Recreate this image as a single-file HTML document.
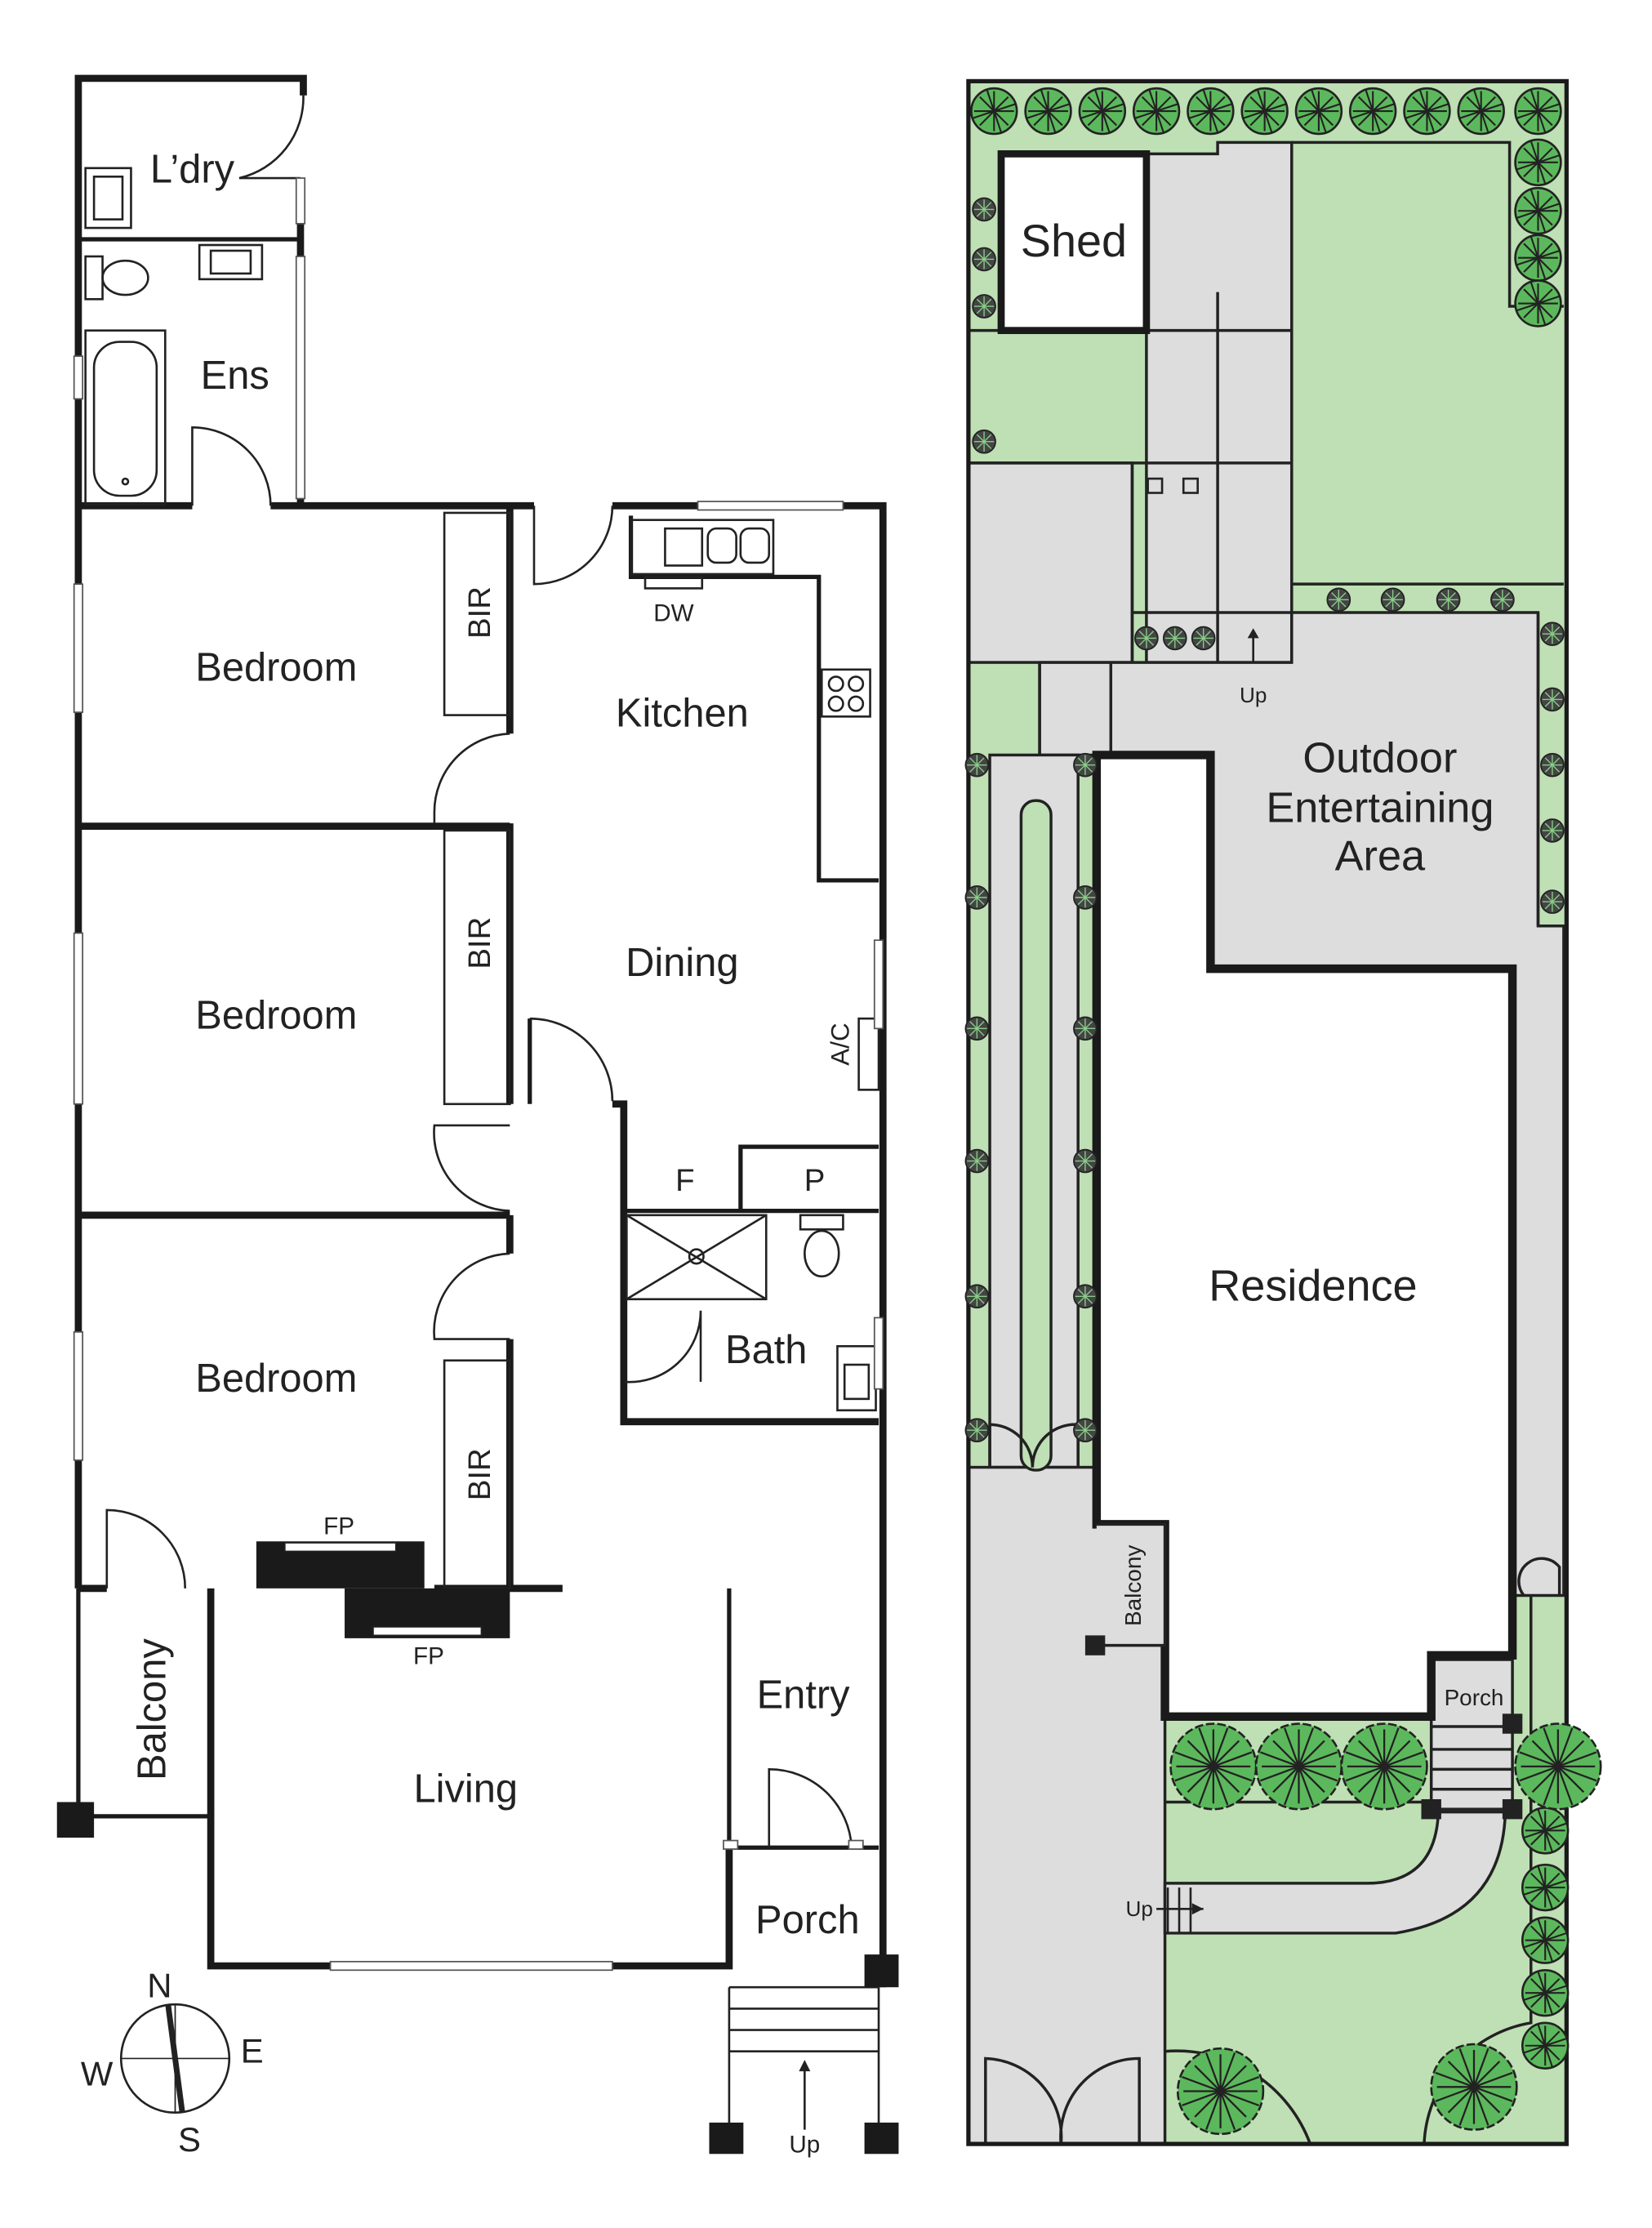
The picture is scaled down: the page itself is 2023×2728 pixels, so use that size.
<!DOCTYPE html>
<html><head><meta charset="utf-8"><style>html,body{margin:0;padding:0;background:#fff}svg{display:block}text{font-family:"Liberation Sans",sans-serif;fill:#222}</style></head>
<body>
<svg width="2023" height="2728" viewBox="0 0 1160 1564" preserveAspectRatio="none" xmlns="http://www.w3.org/2000/svg">
<defs>
<g id="t"><circle r="16" fill="#5cb85c" stroke="#222" stroke-width="1.5"/><path d="M-14,0H14M0,-14V14M-10,-10L10,10M-10,10L10,-10M-5,-15L5,15M15,-5L-15,5" stroke="#222" stroke-width="1.2"/></g>
<g id="s"><circle r="8" fill="#444" stroke="#222"/><path d="M-7,0H7M0,-7V7M-5,-5L5,5M-5,5L5,-5" stroke="#8c8" stroke-width="0.8"/></g>
<g id="b"><circle r="30" fill="#5cb85c" stroke="#222" stroke-width="1.5" stroke-dasharray="6 2"/><path d="M-26,0H26M0,-26V26M-18,-18L18,18M-18,18L18,-18M-10,-27L10,27M27,-10L-27,10M-27,-10L27,10M10,-27L-10,27" stroke="#222" stroke-width="1.3"/></g>
</defs>
<!-- RIGHT SITE -->
<rect x="680" y="57" width="420" height="1448" fill="#bfdfb4"/>
<g fill="#dddddd" stroke="#222" stroke-width="2">
<path d="M805,108H855V100H907V465H805Z"/>
<rect x="680" y="325" width="115" height="140"/>
<path d="M730,465H907V430H1080V650H1098V1120H1062V680H850V530H770V530H730Z"/>
<rect x="695" y="530" width="62" height="500"/>
<rect x="680" y="1030" width="138" height="475"/>
<rect x="1005" y="1165" width="57" height="105"/>
</g>
<rect x="717" y="562" width="21" height="470" rx="10" fill="#bfdfb4" stroke="#222" stroke-width="2"/>
<g stroke="#222" stroke-width="2" fill="none">
<path d="M855,205V465M680,232H907M680,325H907M795,430H907M795,325V465M907,410H1098M907,100H1060V215H1098M1080,430V650M730,465V530M780,465V530M680,1000V1030M818,1265H1005"/>
<path d="M1005,1212H1062M1005,1228H1062M1005,1242H1062M1005,1256H1062"/>
<path d="M692,1505V1445A55,55 0 0 1 745,1505M800,1505V1445A55,55 0 0 0 745,1505"/>
<path d="M695,1030V1000A30,30 0 0 1 725,1030M757,1030V1000A30,30 0 0 0 725,1030"/>
<path d="M1070,1120A15,15 0 0 1 1095,1100V1120"/>
<path d="M818,1440A100,100 0 0 1 920,1505M1000,1505A90,90 0 0 1 1075,1420V1120"/>
</g>
<path d="M1010,1272Q1008,1322 960,1322L818,1322L818,1357L980,1357Q1055,1345 1057,1272Z" fill="#dddddd" stroke="#222" stroke-width="2"/>
<path d="M820,1325V1357M828,1325V1357M836,1325V1357M812,1340H845" stroke="#222" stroke-width="1.5"/>
<path d="M845,1340l-8,-4v8z" fill="#222"/>
<rect x="703" y="108" width="102" height="124" fill="#fff" stroke="#1a1a1a" stroke-width="5"/>
<rect x="806" y="336" width="10" height="10" fill="none" stroke="#222" stroke-width="1.5"/>
<rect x="831" y="336" width="10" height="10" fill="none" stroke="#222" stroke-width="1.5"/>
<path d="M770,530H850V680H1062V1162H1005V1205H818V1070H770Z" fill="#fff" stroke="#1a1a1a" stroke-width="6"/>
<path d="M770,1070H818V1155H770" fill="#dddddd" stroke="#222" stroke-width="2"/>
<rect x="762" y="1148" width="14" height="14" fill="#222"/>
<rect x="998" y="1263" width="14" height="14" fill="#222"/><rect x="1055" y="1263" width="14" height="14" fill="#222"/><rect x="1055" y="1203" width="14" height="14" fill="#222"/>
<path d="M880,465V445" stroke="#222" stroke-width="1.5"/><path d="M880,441l-4,7h8z" fill="#222"/>
<rect x="680" y="57" width="420" height="1448" fill="none" stroke="#1a1a1a" stroke-width="3"/>
<g>
<use href="#t" x="698" y="78"/><use href="#t" x="736" y="78"/><use href="#t" x="774" y="78"/><use href="#t" x="812" y="78"/><use href="#t" x="850" y="78"/><use href="#t" x="888" y="78"/><use href="#t" x="926" y="78"/><use href="#t" x="964" y="78"/><use href="#t" x="1002" y="78"/><use href="#t" x="1040" y="78"/><use href="#t" x="1080" y="78"/>
<use href="#t" x="1080" y="114"/><use href="#t" x="1080" y="148"/><use href="#t" x="1080" y="181"/><use href="#t" x="1080" y="213"/>
<use href="#s" x="691" y="147"/><use href="#s" x="691" y="182"/><use href="#s" x="691" y="215"/><use href="#s" x="691" y="310"/>
<use href="#s" x="805" y="448"/><use href="#s" x="825" y="448"/><use href="#s" x="845" y="448"/>
<use href="#s" x="940" y="421"/><use href="#s" x="978" y="421"/><use href="#s" x="1017" y="421"/><use href="#s" x="1055" y="421"/>
<use href="#s" x="1090" y="445"/><use href="#s" x="1090" y="491"/><use href="#s" x="1090" y="537"/><use href="#s" x="1090" y="583"/><use href="#s" x="1090" y="633"/>
<use href="#s" x="686" y="537"/><use href="#s" x="686" y="630"/><use href="#s" x="686" y="722"/><use href="#s" x="686" y="815"/><use href="#s" x="686" y="910"/><use href="#s" x="686" y="1004"/>
<use href="#s" x="762" y="537"/><use href="#s" x="762" y="630"/><use href="#s" x="762" y="722"/><use href="#s" x="762" y="815"/><use href="#s" x="762" y="910"/><use href="#s" x="762" y="1004"/>
<use href="#t" x="1085" y="1285"/><use href="#t" x="1085" y="1325"/><use href="#t" x="1085" y="1362"/><use href="#t" x="1085" y="1399"/><use href="#t" x="1085" y="1436"/>
<use href="#b" x="852" y="1240"/><use href="#b" x="912" y="1240"/><use href="#b" x="972" y="1240"/><use href="#b" x="1094" y="1240"/>
<use href="#b" x="857" y="1468"/><use href="#b" x="1035" y="1465"/>
</g>
<text x="754" y="180" font-size="32" text-anchor="middle">Shed</text>
<text x="969" y="542" font-size="30" text-anchor="middle">Outdoor</text>
<text x="969" y="577" font-size="30" text-anchor="middle">Entertaining</text>
<text x="969" y="611" font-size="30" text-anchor="middle">Area</text>
<text x="922" y="913" font-size="31" text-anchor="middle">Residence</text>
<text x="880" y="493" font-size="15" text-anchor="middle">Up</text>
<text x="1035" y="1197" font-size="16" text-anchor="middle">Porch</text>
<text x="800" y="1345" font-size="15" text-anchor="middle">Up</text>
<text transform="translate(801,1113) rotate(-90)" font-size="16" text-anchor="middle">Balcony</text>

<!-- LEFT PLAN -->
<g fill="none" stroke="#1a1a1a" stroke-width="5">
<path d="M213,67V55H55V1115"/>
<path d="M211,125V355"/>
<path d="M55,355H135M190,355H375M430,355H620V1395"/>
<path d="M358,355V515M358,578V775M358,853V880M358,940V1115"/>
<path d="M305,1115H395"/>
<path d="M430,775H438V998H617"/>
<path d="M55,580H358M55,853H358"/>
<path d="M148,1115V1380H512V1295"/>
<path d="M55,1115H75"/>
</g>
<g fill="none" stroke="#1a1a1a" stroke-width="3">
<path d="M55,168H211"/>
<path d="M512,1115V1295M512,1297H617"/>
<path d="M443,362V405H575V618H617"/>
<path d="M520,850V805H617M438,850H617"/>
<path d="M55,1115V1275H148"/>
<path d="M372,775V715"/>
</g>
<g fill="none" stroke="#222" stroke-width="1.5">
<path d="M213,67A58,58 0 0 1 168,125H211"/>
<path d="M135,355V300A55,55 0 0 1 190,355"/>
<path d="M375,355V410A55,55 0 0 0 430,355"/>
<path d="M358,515A55,55 0 0 0 305,570V578"/>
<path d="M372,715A58,58 0 0 1 430,773"/>
<path d="M358,790H305A55,55 0 0 0 358,850"/>
<path d="M358,880A55,55 0 0 0 305,940H358"/>
<path d="M75,1115V1060A55,55 0 0 1 130,1115"/>
<path d="M438,970A50,50 0 0 0 492,920V970"/>
<path d="M540,1297V1242A58,58 0 0 1 598,1297"/>
<rect x="312" y="360" width="46" height="142"/><rect x="312" y="583" width="46" height="192"/><rect x="312" y="955" width="46" height="160"/>
<rect x="440" y="853" width="98" height="59"/><path d="M440,853L538,912M538,853L440,912"/><circle cx="489" cy="882" r="5"/>
<rect x="443" y="365" width="100" height="38"/><rect x="467" y="371" width="26" height="26"/><rect x="497" y="371" width="20" height="24" rx="6"/><rect x="520" y="371" width="20" height="24" rx="6"/>
<rect x="453" y="405" width="40" height="8"/>
<rect x="577" y="470" width="34" height="33"/><circle cx="587" cy="480" r="5"/><circle cx="601" cy="480" r="5"/><circle cx="587" cy="494" r="5"/><circle cx="601" cy="494" r="5"/>
<rect x="603" y="715" width="14" height="50"/>
<rect x="588" y="945" width="27" height="45"/><rect x="593" y="958" width="17" height="24"/>
<rect x="562" y="853" width="30" height="10"/><ellipse cx="577" cy="880" rx="12" ry="16"/>
<rect x="60" y="118" width="32" height="42"/><rect x="66" y="124" width="20" height="30"/>
<rect x="140" y="172" width="44" height="24"/><rect x="148" y="176" width="28" height="16"/>
<rect x="60" y="180" width="12" height="30"/><ellipse cx="88" cy="195" rx="16" ry="12"/>
<rect x="60" y="232" width="56" height="122"/><rect x="66" y="240" width="44" height="108" rx="18"/><circle cx="88" cy="338" r="2"/>
<path d="M512,1410H617M512,1425H617M512,1440H617M512,1395H617M512,1395V1495M617,1395V1495"/>
<path d="M565,1495V1452"/>
</g>
<path d="M565,1446l-4,8h8z" fill="#222"/>
<g fill="#fff" stroke="#555" stroke-width="1">
<rect x="52" y="410" width="6" height="90"/><rect x="52" y="655" width="6" height="120"/><rect x="52" y="935" width="6" height="90"/><rect x="52" y="250" width="6" height="30"/>
<rect x="208" y="125" width="6" height="32"/><rect x="208" y="180" width="6" height="170"/>
<rect x="490" y="352" width="102" height="6"/><rect x="614" y="660" width="6" height="62"/><rect x="614" y="925" width="6" height="50"/>
<rect x="232" y="1377" width="198" height="6"/>
<rect x="508" y="1292" width="10" height="6"/><rect x="596" y="1292" width="10" height="6"/>
</g>
<rect x="180" y="1082" width="118" height="33" fill="#1a1a1a"/><rect x="242" y="1115" width="116" height="35" fill="#1a1a1a"/>
<rect x="200" y="1083" width="78" height="6" fill="#fff" stroke="#222"/><rect x="262" y="1142" width="76" height="6" fill="#fff" stroke="#222"/>
<rect x="40" y="1265" width="26" height="25" fill="#1a1a1a"/>
<rect x="498" y="1490" width="24" height="22" fill="#1a1a1a"/><rect x="607" y="1490" width="24" height="22" fill="#1a1a1a"/><rect x="607" y="1372" width="24" height="23" fill="#1a1a1a"/>
<g font-size="28" text-anchor="middle">
<text x="135" y="128">L’dry</text><text x="165" y="273">Ens</text>
<text x="194" y="478">Bedroom</text><text x="194" y="722">Bedroom</text><text x="194" y="977">Bedroom</text>
<text x="479" y="510">Kitchen</text><text x="479" y="685">Dining</text>
<text x="538" y="957">Bath</text><text x="327" y="1265">Living</text>
<text x="564" y="1199">Entry</text><text x="567" y="1357">Porch</text>
</g>
<g font-size="22" text-anchor="middle">
<text x="481" y="836">F</text><text x="572" y="836">P</text>
</g>
<g font-size="17" text-anchor="middle">
<text x="473" y="436">DW</text><text x="238" y="1077">FP</text><text x="301" y="1168">FP</text><text x="565" y="1511">Up</text>
</g>
<g font-size="22" text-anchor="middle">
<text transform="translate(344,430) rotate(-90)">BIR</text><text transform="translate(344,662) rotate(-90)">BIR</text><text transform="translate(344,1035) rotate(-90)">BIR</text>
</g>
<text transform="translate(596,733) rotate(-90)" font-size="18" text-anchor="middle">A/C</text>
<text transform="translate(116,1200) rotate(-90)" font-size="28" text-anchor="middle">Balcony</text>
<circle cx="123" cy="1445" r="38" fill="none" stroke="#222" stroke-width="1.5"/>
<path d="M85,1445H161M123,1407V1483" stroke="#222" stroke-width="1"/>
<path d="M118,1407L128,1483" stroke="#222" stroke-width="4"/>
<g font-size="24" text-anchor="middle"><text x="112" y="1402">N</text><text x="133" y="1510">S</text><text x="68" y="1464">W</text><text x="177" y="1448">E</text></g>
</svg>
</body></html>
